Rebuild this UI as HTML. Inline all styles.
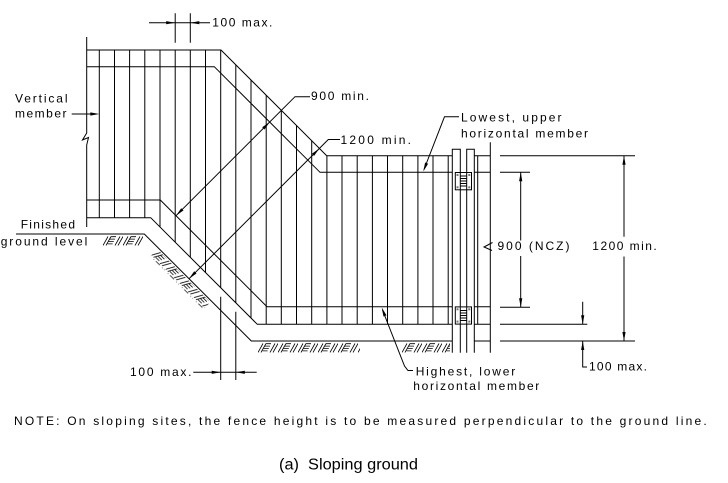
<!DOCTYPE html>
<html>
<head>
<meta charset="utf-8">
<style>
  html,body{margin:0;padding:0;background:#fff;}
  svg{display:block;}
  text{font-family:"Liberation Sans",Arial,sans-serif;fill:#000;}
</style>
</head>
<body>
<svg width="728" height="483" viewBox="0 0 728 483" xmlns="http://www.w3.org/2000/svg">
  <defs>
    <pattern id="h" width="20" height="10" patternUnits="userSpaceOnUse">
      <g stroke="#000" stroke-width="0.8" fill="none">
        <path d="M0,10 L5,1 M3,10 L8,1 M8,1.2 L13,1.2 M7,3.6 L12,3.6 M5.8,6 L10.8,6 M4.6,8.4 L9.6,8.4 M12,10 L17,1 M15,10 L20,1"/>
      </g>
    </pattern>
  </defs>

  <rect width="728" height="483" fill="#fff"/>

  <g stroke="#000" stroke-width="1" fill="none">
    <!-- left edge with break -->
    <path d="M86.7,37 V133 L82.5,140 L88.5,137.5 L86.7,145 V227"/>

    <!-- rails -->
    <polyline points="86.7,50 221,50 326.7,155.7 452.3,155.7"/>
    <polyline points="86.7,66.7 214.3,66.7 320,172.3 452.3,172.3"/>
    <polyline points="86.7,200 160.3,200 267,306.7 452.3,306.7"/>
    <polyline points="86.7,217.7 150.7,217.7 257.3,324.3 452.3,324.3"/>
    <!-- ground -->
    <polyline points="16,234 144.3,234 251.3,341 452.3,341"/>

    <!-- pickets -->
    <path d="
      M99.3,50 V217.7
      M114.5,50 V217.7
      M129.6,50 V217.7
      M144.8,50 V217.7
      M160,50 V227
      M175.2,50 V242.2
      M190.3,50 V257.3
      M205.5,50 V272.5
      M220.7,50 V287.7
      M235.8,64.8 V302.8
      M251,80 V318
      M266.2,95.2 V324.3
      M281.3,110.3 V324.3
      M296.5,125.5 V324.3
      M311.7,140.7 V324.3
      M326.9,155.7 V324.3
      M342,155.7 V324.3
      M357.2,155.7 V324.3
      M372.4,155.7 V324.3
      M387.5,155.7 V324.3
      M402.7,155.7 V324.3
      M417.9,155.7 V324.3
      M433,155.7 V324.3
      M448.2,155.7 V324.3"/>

    <!-- posts -->
    <path d="M452.3,352.7 V149.3 H460.3 V352.7"/>
    <path d="M466.7,352.7 V149.3 H474.3 V352.7"/>
    <path d="M490.3,142.3 V352.7"/>
    <path d="M477.7,155.7 V324.3"/>
    <path d="M474.3,155.7 H490.3 M474.3,172.3 H490.3 M474.3,306.7 H490.3 M474.3,324.3 H490.3 M474.3,341 H490.3"/>
  </g>

  <!-- brackets -->
  <g stroke="#000" stroke-width="1">
    <rect x="455.3" y="172.5" width="16.2" height="17.3" fill="#fff"/>
    <rect x="455.3" y="306.9" width="16.2" height="17.2" fill="#fff"/>
    <path d="M460.3,173 V189.5 M466.7,173 V189.5 M460.3,176 H466.7 M460.3,178.5 H466.7 M460.3,181 H466.7 M460.3,183.5 H466.7 M460.3,186 H466.7" fill="none"/>
    <path d="M460.3,307.5 V323.8 M466.7,307.5 V323.8 M460.3,310.5 H466.7 M460.3,313 H466.7 M460.3,315.5 H466.7 M460.3,318 H466.7 M460.3,320.5 H466.7" fill="none"/>
  </g>
  <g fill="#777">
    <rect x="456.5" y="174" width="2" height="2"/><rect x="468.3" y="174" width="2" height="2"/>
    <rect x="456.5" y="186.3" width="2" height="2"/><rect x="468.3" y="186.3" width="2" height="2"/>
    <rect x="456.5" y="308.3" width="2" height="2"/><rect x="468.3" y="308.3" width="2" height="2"/>
    <rect x="456.5" y="320.6" width="2" height="2"/><rect x="468.3" y="320.6" width="2" height="2"/>
  </g>

  <!-- hatching -->
  <g transform="translate(103,235.5)"><rect x="0" y="0" width="40" height="10" fill="url(#h)"/></g>
  <g transform="translate(144.3,234) rotate(45)"><rect x="20" y="1.5" width="75" height="10" fill="url(#h)"/></g>
  <g transform="translate(258,342.5)"><rect x="0" y="0" width="102" height="10" fill="url(#h)"/></g>
  <g transform="translate(402,342.5)"><rect x="0" y="0" width="48" height="10" fill="url(#h)"/></g>

  <!-- dimension / leader lines -->
  <g stroke="#000" stroke-width="1" fill="none">
    <!-- top 100 max -->
    <path d="M175.2,13.3 V42.7 M190.3,13.3 V42.7 M149,22.7 H210"/>
    <!-- bottom 100 max -->
    <path d="M220.7,296.7 V380 M235.8,311.7 V380 M193.3,372.3 H256.7"/>
    <!-- vertical member leader -->
    <path d="M71.7,114 H97"/>
    <!-- 900 min -->
    <path d="M310,96.7 H295 L176,215.7"/>
    <!-- 1200 min -->
    <path d="M340,139.5 H328.3 L189,278.8"/>
    <!-- lowest upper leader -->
    <path d="M459,116.7 H444.5 L424,169.5"/>
    <!-- highest lower leader -->
    <path d="M382.5,310 L404.5,366 L408,370.5 H413"/>
    <!-- right extension lines -->
    <path d="M500,155.7 H635 M500,172.3 H530 M500,307.3 H530 M500,324.3 H587.3 M500,341 H635"/>
    <!-- 900 NCZ dim -->
    <path d="M520.7,172.3 V240.5 M520.7,256 V307.3"/>
    <!-- 1200 dim -->
    <path d="M624,155.7 V236.7 M624,256.5 V341"/>
    <!-- 100 max right -->
    <path d="M582.7,301.7 V324.3 M582.7,341 V367 H587"/>
    <!-- squiggle -->
    <path d="M492.5,242.5 L484,247 L492,250.5"/>
  </g>

  <!-- arrowheads -->
  <g fill="#000" stroke="none">
    <polygon points="175.2,22.7 166.2,21.1 166.2,24.3"/>
    <polygon points="190.3,22.7 199.3,21.1 199.3,24.3"/>
    <polygon points="220.7,372.3 211.7,370.7 211.7,373.9"/>
    <polygon points="235.8,372.3 244.8,370.7 244.8,373.9"/>
    <polygon points="99.3,114 90.3,112.4 90.3,115.6"/>
    <polygon points="269.7,122 264.5,129.5 262.2,127.2"/>
    <polygon points="176,215.7 183.5,210.4 181.2,208.2"/>
    <polygon points="319.4,148.4 314.1,155.9 311.9,153.7"/>
    <polygon points="189,278.8 196.5,273.5 194.2,271.3"/>
    <polygon points="423.3,171.5 425.1,162.5 428.1,163.7"/>
    <polygon points="381.7,307.5 386.5,315.3 383.5,316.5"/>
    <polygon points="520.7,172.3 519.1,181.3 522.3,181.3"/>
    <polygon points="520.7,307.3 519.1,298.3 522.3,298.3"/>
    <polygon points="624,155.7 622.4,164.7 625.6,164.7"/>
    <polygon points="624,341 622.4,332 625.6,332"/>
    <polygon points="582.7,324.3 581.1,315.3 584.3,315.3"/>
    <polygon points="582.7,341 581.1,350 584.3,350"/>
  </g>

  <!-- labels -->
  <g font-size="12">
    <text x="212.3" y="26.5" textLength="60" lengthAdjust="spacing">100 max.</text>
    <text x="15" y="102.3" textLength="52.5" lengthAdjust="spacing">Vertical</text>
    <text x="15" y="117.7" textLength="51.5" lengthAdjust="spacing">member</text>
    <text x="311" y="100.2" textLength="58" lengthAdjust="spacing">900 min.</text>
    <text x="340.5" y="143.8" textLength="70.5" lengthAdjust="spacing">1200 min.</text>
    <text x="461" y="121.7" textLength="100.5" lengthAdjust="spacing">Lowest, upper</text>
    <text x="461" y="137.3" textLength="127" lengthAdjust="spacing">horizontal member</text>
    <text x="497.5" y="250" textLength="72" lengthAdjust="spacing">900 (NCZ)</text>
    <text x="592.3" y="250" textLength="64.4" lengthAdjust="spacing">1200 min.</text>
    <text x="20.7" y="228.3" textLength="54.3" lengthAdjust="spacing">Finished</text>
    <text x="0.7" y="245.5" textLength="86.6" lengthAdjust="spacing">ground level</text>
    <text x="130" y="375.8" textLength="61.5" lengthAdjust="spacing">100 max.</text>
    <text x="415.7" y="375.7" textLength="99.5" lengthAdjust="spacing">Highest, lower</text>
    <text x="413.3" y="390.2" textLength="126" lengthAdjust="spacing">horizontal member</text>
    <text x="589" y="370.7" textLength="58" lengthAdjust="spacing">100 max.</text>
    <text x="14" y="425" textLength="692.7" lengthAdjust="spacing">NOTE: On sloping sites, the fence height is to be measured perpendicular to the ground line.</text>
  </g>
  <text x="279" y="469.5" font-size="15.5" textLength="139" lengthAdjust="spacingAndGlyphs" xml:space="preserve">(a)  Sloping ground</text>
</svg>
</body>
</html>
